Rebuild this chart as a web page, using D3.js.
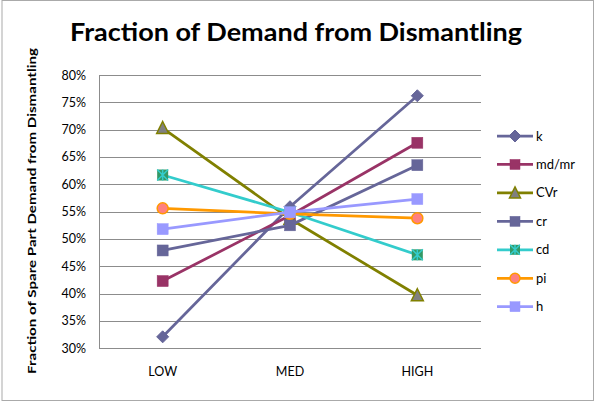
<!DOCTYPE html>
<html><head><meta charset="utf-8">
<script src="https://cdn.jsdelivr.net/npm/d3@7"></script>
<style>body{margin:0;background:#fff}svg{display:block}text{font-family:Lato,"Open Sans",sans-serif}</style>
</head><body><svg id="c" width="595" height="402"></svg>
<script>
const categories = ["LOW", "MED", "HIGH"];
const seriesNames = ["k", "md/mr", "CVr", "cr", "cd", "pi", "h"];
const kVals   = [0.321, 0.559, 0.762];
const mdVals  = [0.423, 0.543, 0.676];
const cvrVals = [0.703, 0.537, 0.397];
const crVals  = [0.479, 0.525, 0.635];
const cdVals  = [0.617, 0.549, 0.471];
const piVals  = [0.556, 0.546, 0.538];
const hVals   = [0.518, 0.549, 0.573];
const yTicks = [0.30, 0.35, 0.40, 0.45, 0.50, 0.55, 0.60, 0.65, 0.70, 0.75, 0.80];
const title = "Fraction of Demand from Dismantling";
const yTitle = "Fraction of Spare Part Demand from Dismantling";

const styles = [
  {line:"#666699", fill:"#666699", stroke:"#666699", shape:"diamond"},
  {line:"#993366", fill:"#993366", stroke:"#993366", shape:"square"},
  {line:"#808000", fill:"#808080", stroke:"#808000", shape:"triangle"},
  {line:"#666699", fill:"#666699", stroke:"#666699", shape:"square"},
  {line:"#33CCCC", fill:"#339966", stroke:"#33CCCC", shape:"xsquare"},
  {line:"#FF9900", fill:"#FF8080", stroke:"#FF9900", shape:"circle"},
  {line:"#9999FF", fill:"#9999FF", stroke:"#9999FF", shape:"square"}
];
const allVals = [kVals, mdVals, cvrVals, crVals, cdVals, piVals, hVals];
const series = seriesNames.map((n,i)=>({name:n, values:allVals[i], st:styles[i]}));

const svg = d3.select("#c");
// outer border
svg.append("rect").attr("x",2).attr("y",0.5).attr("width",591.5).attr("height",400)
  .attr("fill","none").attr("stroke","#aaa").attr("stroke-width",1);

const L=99, R=481, T=75, B=348.3;
const x = d3.scaleBand().domain(categories).range([L,R]);
const y = d3.scaleLinear().domain([0.30,0.80]).range([B,T]);

// grid
svg.append("g").selectAll("line").data(yTicks).join("line")
  .attr("x1",L).attr("x2",R).attr("y1",d=>Math.round(y(d))+0.5).attr("y2",d=>Math.round(y(d))+0.5)
  .attr("stroke","#8c8c8c").attr("stroke-width",1);
svg.append("line").attr("x1",L+0.5).attr("x2",L+0.5).attr("y1",T).attr("y2",B+0.5).attr("stroke","#8c8c8c");

// y axis labels
const yAxis = d3.axisLeft(y).tickValues(yTicks).tickFormat(d3.format(".0%")).tickSize(0).tickPadding(13);
const ya = svg.append("g").attr("transform",`translate(${L},0)`).call(yAxis);
ya.select(".domain").remove();
ya.selectAll("text").attr("font-size",12.5).attr("fill","#000").style("font-family","Lato,'Open Sans',sans-serif");

// x axis labels
const xAxis = d3.axisBottom(x).tickSize(0).tickPadding(19);
const xa = svg.append("g").attr("transform",`translate(0,${B})`).call(xAxis);
xa.select(".domain").remove();
xa.selectAll("text").attr("font-size",12.5).attr("fill","#000").style("font-family","Lato,'Open Sans',sans-serif");

// title
svg.append("text").attr("x",296).attr("y",40.5).attr("text-anchor","middle")
  .attr("font-size",24).attr("font-weight","bold").attr("textLength",452).attr("lengthAdjust","spacingAndGlyphs").text(title);
svg.append("text").attr("transform","translate(35.5,211) rotate(-90)").attr("text-anchor","middle")
  .attr("font-size",12).attr("font-weight","bold").attr("textLength",326).attr("lengthAdjust","spacingAndGlyphs").text(yTitle);

function marker(g, shape, st, s){
  const h=s/2;
  if(shape==="diamond"){
    g.append("path").attr("d",`M0,${-h}L${h},0L0,${h}L${-h},0Z`).attr("fill",st.fill).attr("stroke",st.stroke);
  } else if(shape==="square"){
    g.append("rect").attr("x",-h).attr("y",-h).attr("width",s).attr("height",s).attr("fill",st.fill).attr("stroke",st.stroke).attr("stroke-width",0.5);
  } else if(shape==="triangle"){
    g.append("path").attr("d",`M0,${-h-1}L${h+0.5},${h}L${-h-0.5},${h}Z`).attr("fill",st.fill).attr("stroke",st.stroke).attr("stroke-width",1.5);
  } else if(shape==="xsquare"){
    g.append("rect").attr("x",-h).attr("y",-h).attr("width",s).attr("height",s).attr("fill",st.fill);
    g.append("path").attr("d",`M${-h},${-h}L${h},${h}M${h},${-h}L${-h},${h}M0,${-h}L0,${h}`).attr("stroke",st.stroke).attr("stroke-width",1.5);
  } else if(shape==="circle"){
    g.append("circle").attr("r",h).attr("fill",st.fill).attr("stroke",st.stroke).attr("stroke-width",1.5);
  }
}

const line = d3.line().x((d,i)=>x(categories[i])+x.bandwidth()/2).y(d=>y(d));
series.forEach(s=>{
  const g = svg.append("g");
  g.append("path").attr("d",line(s.values)).attr("fill","none").attr("stroke",s.st.line).attr("stroke-width",2.75);
  s.values.forEach((v,i)=>{
    const m = g.append("g").attr("transform",`translate(${x(categories[i])+x.bandwidth()/2},${y(v)})`);
    marker(m, s.st.shape, s.st, s.st.shape==="diamond"?12:11);
  });
});

// legend
const lg = svg.append("g");
series.forEach((s,i)=>{
  const yy = 136 + i*28.45;
  const g = lg.append("g").attr("transform",`translate(0,${yy})`);
  g.append("line").attr("x1",497).attr("x2",533).attr("y1",0).attr("y2",0).attr("stroke",s.st.line).attr("stroke-width",2.75);
  const m = g.append("g").attr("transform","translate(515,0)");
  marker(m, s.st.shape, s.st, s.st.shape==="diamond"?12:10);
  g.append("text").attr("x",536).attr("y",4.5).attr("font-size",13).text(s.name);
});
</script></body></html>
